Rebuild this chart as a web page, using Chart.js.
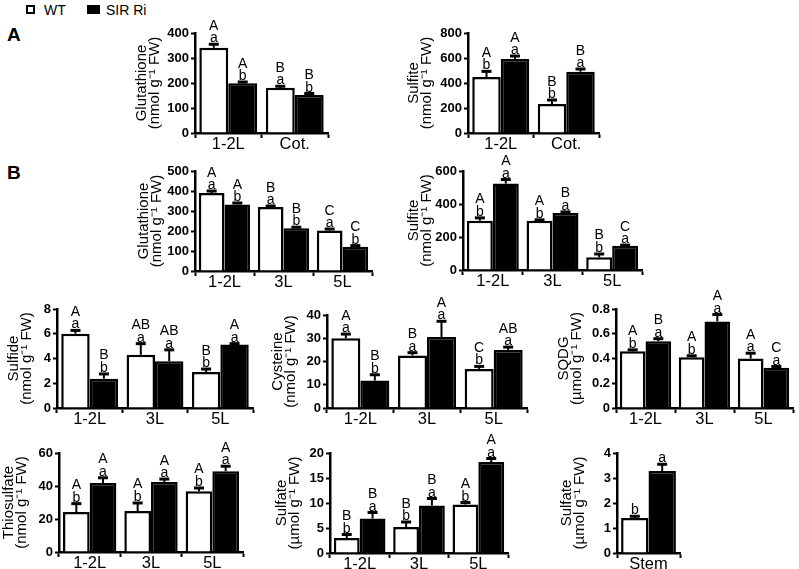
<!DOCTYPE html>
<html lang="en">
<head>
<meta charset="UTF-8" />
<title>Sulfur metabolites in WT and SIR Ri</title>
<script src="https://cdn.jsdelivr.net/npm/chart.js"></script>
<style>
  body { margin: 0; background: #fff; font-family: "Liberation Sans", Arial, sans-serif; color: #000; }
  #fig { position: relative; width: 799px; height: 569px; overflow: hidden; }
  #fig canvas { position: absolute; }
  .tag { position: absolute; font-weight: bold; font-size: 19px; line-height: 19px; }
  .key { position: absolute; font-size: 14px; line-height: 14px; }
  .box { position: absolute; box-sizing: border-box; border: 2px solid #000; }
</style>
</head>
<body>
<div id="fig">
  <div class="box" style="left:26px;top:5px;width:9px;height:9px;background:#fff"></div>
  <div class="key" style="left:44px;top:3px">WT</div>
  <div class="box" style="left:87px;top:5px;width:13px;height:9px;background:#000"></div>
  <div class="key" style="left:106px;top:3px">SIR Ri</div>
  <div class="tag" style="left:7px;top:25px">A</div>
  <div class="tag" style="left:7px;top:163px">B</div>
</div>

<script>
  const FONT = '"Liberation Sans", Arial, sans-serif';

  const seedlingParts = ['1-2L', 'Cot.'];
  const leafStages = ['1-2L', '3L', '5L'];
  const stemPart = ['Stem'];

  // A - glutathione
  const gshA_wt = [341, 181];
  const gshA_wtSE = [14, 6];
  const gshA_sir = [199, 152];
  const gshA_sirSE = [5, 6];
  const gshA_wtLet = ['A/a', 'B/a'];
  const gshA_sirLet = ['A/b', 'B/b'];

  // A - sulfite
  const so3A_wt = [448, 232];
  const so3A_wtSE = [45, 32];
  const so3A_sir = [592, 490];
  const so3A_sirSE = [24, 22];
  const so3A_wtLet = ['A/b', 'B/b'];
  const so3A_sirLet = ['A/a', 'B/a'];

  // B - glutathione
  const gshB_wt = [390, 320, 203];
  const gshB_wtSE = [10, 5, 7];
  const gshB_sir = [333, 214, 121];
  const gshB_sirSE = [7, 5, 6];
  const gshB_wtLet = ['A/a', 'B/a', 'C/a'];
  const gshB_sirLet = ['A/b', 'B/b', 'C/b'];

  // B - sulfite
  const so3B_wt = [298, 298, 77];
  const so3B_wtSE = [18, 6, 20];
  const so3B_sir = [524, 346, 147];
  const so3B_sirSE = [24, 6, 4];
  const so3B_wtLet = ['A/b', 'A/b', 'B/b'];
  const so3B_sirLet = ['A/a', 'B/a', 'C/a'];

  // sulfide
  const sulfide_wt = [6.0, 4.3, 2.9];
  const sulfide_wtSE = [0.27, 0.9, 0.25];
  const sulfide_sir = [2.37, 3.78, 5.13];
  const sulfide_sirSE = [0.38, 0.92, 0.07];
  const sulfide_wtLet = ['A/a', 'AB/a', 'B/b'];
  const sulfide_sirLet = ['B/b', 'AB/a', 'A/a'];

  // cysteine
  const cys_wt = [30, 22.6, 16.8];
  const cys_wtSE = [1.8, 1.2, 1.1];
  const cys_sir = [11.8, 30.5, 25];
  const cys_sirSE = [2.5, 6.8, 1.2];
  const cys_wtLet = ['A/a', 'B/a', 'C/b'];
  const cys_sirLet = ['B/b', 'A/a', 'AB/a'];

  // SQDG
  const sqdg_wt = [0.458, 0.41, 0.40];
  const sqdg_wtSE = [0.012, 0.012, 0.043];
  const sqdg_sir = [0.54, 0.70, 0.325];
  const sqdg_sirSE = [0.02, 0.055, 0.01];
  const sqdg_wtLet = ['A/b', 'A/b', 'A/a'];
  const sqdg_sirLet = ['B/a', 'A/a', 'C/a'];

  // thiosulfate
  const thio_wt = [24.2, 24.8, 36.8];
  const thio_wtSE = [5.1, 4.9, 2.0];
  const thio_sir = [41.8, 42.4, 49.0];
  const thio_sirSE = [3.2, 1.8, 3.0];
  const thio_wtLet = ['A/b', 'A/b', 'A/b'];
  const thio_sirLet = ['A/a', 'A/a', 'A/a'];

  // sulfate (leaves)
  const so4_wt = [3.0, 5.2, 9.7];
  const so4_wtSE = [0.7, 1.0, 0.4];
  const so4_sir = [6.9, 9.5, 18.2];
  const so4_sirSE = [1.2, 1.4, 0.7];
  const so4_wtLet = ['B/b', 'B/b', 'A/b'];
  const so4_sirLet = ['B/a', 'B/a', 'A/a'];

  // sulfate (stem)
  const so4Stem_wt = [1.4];
  const so4Stem_wtSE = [0.07];
  const so4Stem_sir = [3.28];
  const so4Stem_sirSE = [0.27];
  const so4Stem_wtLet = ['/b'];
  const so4Stem_sirLet = ['/a'];

  const NMOL = '(nmol g\u207B\u00B9 FW)';
  const UMOL = '(\u00B5mol g\u207B\u00B9 FW)';

  // box = plot area [left, top, right, bottom] in page pixels, yW = room left of the axis
  const panels = [
    { title: ['Glutathione', NMOL], cats: seedlingParts, wt: gshA_wt, wtSE: gshA_wtSE, sir: gshA_sir, sirSE: gshA_sirSE, wtLet: gshA_wtLet, sirLet: gshA_sirLet, max: 400, step: 100, box: [195, 33, 328, 133], yW: 60 },
    { title: ['Sulfite', NMOL], cats: seedlingParts, wt: so3A_wt, wtSE: so3A_wtSE, sir: so3A_sir, sirSE: so3A_sirSE, wtLet: so3A_wtLet, sirLet: so3A_sirLet, max: 800, step: 200, box: [468, 33, 599, 133], yW: 61 },
    { title: ['Glutathione', NMOL], cats: leafStages, wt: gshB_wt, wtSE: gshB_wtSE, sir: gshB_sir, sirSE: gshB_sirSE, wtLet: gshB_wtLet, sirLet: gshB_sirLet, max: 500, step: 100, box: [195, 171, 372, 271], yW: 58 },
    { title: ['Sulfite', NMOL], cats: leafStages, wt: so3B_wt, wtSE: so3B_wtSE, sir: so3B_sir, sirSE: so3B_sirSE, wtLet: so3B_wtLet, sirLet: so3B_sirLet, max: 600, step: 200, box: [463, 171, 642, 270], yW: 56 },
    { title: ['Sulfide', NMOL], cats: leafStages, wt: sulfide_wt, wtSE: sulfide_wtSE, sir: sulfide_sir, sirSE: sulfide_sirSE, wtLet: sulfide_wtLet, sirLet: sulfide_sirLet, max: 8, step: 2, box: [57, 309, 253, 408], yW: 50 },
    { title: ['Cysteine', NMOL], cats: leafStages, wt: cys_wt, wtSE: cys_wtSE, sir: cys_sir, sirSE: cys_sirSE, wtLet: cys_wtLet, sirLet: cys_sirLet, max: 40, step: 10, box: [327, 315, 527, 408], yW: 56 },
    { title: ['SQDG', UMOL], cats: leafStages, wt: sqdg_wt, wtSE: sqdg_wtSE, sir: sqdg_sir, sirSE: sqdg_sirSE, wtLet: sqdg_wtLet, sirLet: sqdg_sirLet, max: 0.8, step: 0.2, box: [616, 309, 793, 408], yW: 59 },
    { title: ['Thiosulfate', NMOL], cats: leafStages, wt: thio_wt, wtSE: thio_wtSE, sir: thio_sir, sirSE: thio_sirSE, wtLet: thio_wtLet, sirLet: thio_sirLet, max: 60, step: 20, box: [59, 453, 243, 552], yW: 57 },
    { title: ['Sulfate', UMOL], cats: leafStages, wt: so4_wt, wtSE: so4_wtSE, sir: so4_sir, sirSE: so4_sirSE, wtLet: so4_wtLet, sirLet: so4_sirLet, max: 20, step: 5, box: [330, 453, 508, 553], yW: 55 },
    { title: ['Sulfate', UMOL], cats: stemPart, wt: so4Stem_wt, wtSE: so4Stem_wtSE, sir: so4Stem_sir, sirSE: so4Stem_sirSE, wtLet: so4Stem_wtLet, sirLet: so4Stem_sirLet, max: 4, step: 1, box: [617, 453, 680, 553], yW: 57 }
  ];

  // error bar (upper only) plus significance letters
  const errorBars = {
    id: 'errorBars',
    afterDatasetsDraw(chart) {
      const ctx = chart.ctx;
      const y = chart.scales.y;
      chart.data.datasets.forEach((ds, i) => {
        chart.getDatasetMeta(i).data.forEach((bar, j) => {
          const top = y.getPixelForValue(ds.data[j] + ds.se[j]);
          const x = bar.x;
          ctx.save();
          ctx.strokeStyle = '#000';
          ctx.lineWidth = 2;
          ctx.beginPath();
          ctx.moveTo(x, bar.y);
          ctx.lineTo(x, top);
          ctx.stroke();
          ctx.lineWidth = 3;
          ctx.beginPath();
          ctx.moveTo(x - 5, top);
          ctx.lineTo(x + 5, top);
          ctx.stroke();
          const [up, low] = ds.letters[j].split('/');
          ctx.fillStyle = '#000';
          ctx.font = '14px ' + FONT;
          ctx.textAlign = 'center';
          ctx.textBaseline = 'alphabetic';
          if (low) ctx.fillText(low, x, top - 2);
          if (up) ctx.fillText(up, x, top - 14.5);
          ctx.restore();
        });
      });
    }
  };

  const PAD_TOP = 40, PAD_RIGHT = 6, X_H = 22;
  const fig = document.getElementById('fig');

  panels.forEach(p => {
    const [L, T, R, B] = p.box;
    const canvas = document.createElement('canvas');
    const w = R - L + p.yW + PAD_RIGHT;
    const h = B - T + PAD_TOP + X_H;
    canvas.width = w;
    canvas.height = h;
    canvas.style.left = (L - p.yW) + 'px';
    canvas.style.top = (T - PAD_TOP) + 'px';
    canvas.style.width = w + 'px';
    canvas.style.height = h + 'px';
    fig.appendChild(canvas);

    new Chart(canvas.getContext('2d'), {
      type: 'bar',
      data: {
        labels: p.cats,
        datasets: [
          { label: 'WT', data: p.wt, se: p.wtSE, letters: p.wtLet, backgroundColor: '#fff', borderColor: '#000', borderWidth: 2.5, categoryPercentage: 0.87, barPercentage: 1 },
          { label: 'SIR Ri', data: p.sir, se: p.sirSE, letters: p.sirLet, backgroundColor: '#000', borderColor: '#000', borderWidth: 2.5, categoryPercentage: 0.87, barPercentage: 1 }
        ]
      },
      options: {
        responsive: false,
        animation: false,
        devicePixelRatio: 1,
        layout: { padding: { top: PAD_TOP, right: PAD_RIGHT, left: 0, bottom: 0 } },
        plugins: { legend: { display: false }, tooltip: { enabled: false } },
        scales: {
          x: {
            grid: { drawOnChartArea: false, tickLength: 5, tickColor: '#000', tickWidth: 2, offset: true },
            border: { color: '#000', width: 2.5 },
            ticks: { color: '#000', font: { family: FONT, size: 16.5 }, padding: -3, maxRotation: 0, autoSkip: false },
            afterFit(s) { s.height = X_H; }
          },
          y: {
            min: 0,
            max: p.max,
            grid: { drawOnChartArea: false, tickLength: 4, tickColor: '#000', tickWidth: 2 },
            border: { color: '#000', width: 2.5 },
            ticks: { stepSize: p.step, color: '#000', font: { family: FONT, size: 13, weight: 'bold' }, padding: 2 },
            title: { display: true, text: p.title, color: '#000', font: { family: FONT, size: 15, lineHeight: 0.9 }, padding: 0 },
            afterFit(s) { s.width = p.yW; }
          }
        }
      },
      plugins: [errorBars]
    });
  });
</script>
</body>
</html>
